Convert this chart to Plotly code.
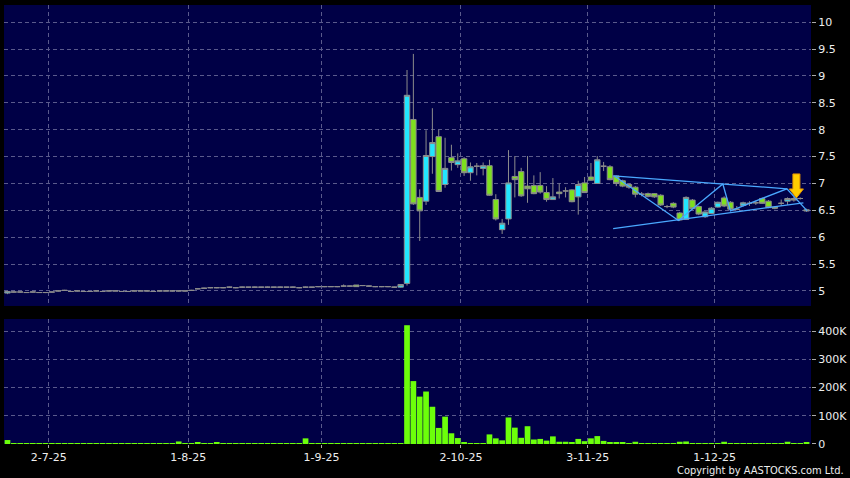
import plotly.graph_objects as go

# daily candles, one per trading day (index 0 = 20-6-25 ... 126 = 19-12-25)
opens = [4.96, 4.98, 4.98, 4.97, 4.98, 4.97, 4.97, 4.98, 5.00, 5.01,
         4.99, 5.00, 4.99, 4.99, 5.00, 4.99, 5.00, 5.00, 4.99, 4.99,
         5.00, 5.00, 5.00, 4.99, 5.00, 5.00, 5.00, 5.00, 5.00, 5.01,
         5.04, 5.05, 5.06, 5.06, 5.06, 5.07, 5.06, 5.07, 5.07, 5.07,
         5.07, 5.07, 5.07, 5.07, 5.07, 5.07, 5.06, 5.07, 5.07, 5.08,
         5.08, 5.08, 5.08, 5.09, 5.09, 5.11, 5.10, 5.09, 5.08, 5.08,
         5.08, 5.07, 5.07, 5.14, 8.19, 6.74, 6.67, 7.50, 7.87, 6.98,
         7.48, 7.35, 7.46, 7.20, 7.32, 7.28, 7.33, 6.70, 6.14, 6.34,
         7.13, 7.22, 6.95, 6.96, 6.96, 6.83, 6.70, 6.84, 6.86, 6.88,
         6.75, 7.01, 7.12, 7.00, 7.32, 7.31, 7.14, 7.05, 6.98, 6.93,
         6.80, 6.81, 6.81, 6.78, 6.57, 6.63, 6.45, 6.33, 6.69, 6.57,
         6.38, 6.44, 6.56, 6.73, 6.65, 6.52, 6.59, 6.63, 6.64, 6.72,
         6.67, 6.56, 6.63, 6.67, 6.72, 6.72, 6.51]
highs = [4.99, 4.99, 4.98, 4.98, 4.98, 4.98, 4.97, 4.98, 5.01, 5.02,
         5.00, 5.00, 5.00, 4.99, 5.00, 5.00, 5.00, 5.01, 5.00, 4.99,
         5.00, 5.01, 5.01, 5.00, 5.00, 5.01, 5.00, 5.00, 5.00, 5.02,
         5.05, 5.06, 5.07, 5.07, 5.06, 5.08, 5.07, 5.08, 5.07, 5.08,
         5.07, 5.08, 5.07, 5.08, 5.07, 5.08, 5.07, 5.08, 5.07, 5.09,
         5.08, 5.09, 5.08, 5.12, 5.10, 5.11, 5.11, 5.10, 5.09, 5.08,
         5.09, 5.08, 5.12, 9.11, 9.41, 6.89, 7.99, 8.40, 8.00, 7.85,
         7.72, 7.56, 7.49, 7.39, 7.38, 7.39, 7.44, 6.80, 6.34, 7.62,
         7.51, 7.29, 7.51, 7.15, 7.21, 6.95, 7.10, 7.00, 6.93, 6.89,
         7.05, 7.12, 7.38, 7.51, 7.40, 7.34, 7.15, 7.07, 7.00, 6.95,
         6.84, 6.83, 6.82, 6.80, 6.60, 6.65, 6.47, 6.76, 6.71, 6.59,
         6.48, 6.56, 6.66, 6.76, 6.67, 6.58, 6.66, 6.67, 6.68, 6.74,
         6.69, 6.58, 6.70, 6.74, 6.75, 6.74, 6.53]
lows = [4.94, 4.97, 4.97, 4.97, 4.97, 4.97, 4.96, 4.97, 4.99, 5.00,
        4.98, 4.99, 4.99, 4.98, 4.99, 4.99, 4.99, 5.00, 4.98, 4.98,
        4.99, 5.00, 4.99, 4.98, 4.99, 5.00, 4.99, 4.99, 4.99, 5.00,
        5.03, 5.04, 5.05, 5.05, 5.05, 5.06, 5.05, 5.06, 5.06, 5.06,
        5.06, 5.07, 5.06, 5.07, 5.06, 5.07, 5.05, 5.06, 5.06, 5.07,
        5.07, 5.08, 5.07, 5.08, 5.08, 5.08, 5.09, 5.08, 5.07, 5.07,
        5.07, 5.06, 5.06, 5.10, 6.60, 5.93, 6.60, 7.18, 6.84, 6.92,
        7.24, 7.29, 7.14, 7.05, 7.15, 7.15, 6.77, 6.31, 6.06, 6.23,
        6.74, 6.75, 6.64, 6.80, 6.81, 6.66, 6.70, 6.72, 6.74, 6.65,
        6.42, 6.83, 7.05, 6.99, 7.23, 7.06, 6.95, 6.93, 6.90, 6.74,
        6.76, 6.74, 6.73, 6.58, 6.54, 6.54, 6.30, 6.32, 6.52, 6.41,
        6.36, 6.43, 6.55, 6.56, 6.50, 6.50, 6.57, 6.58, 6.60, 6.62,
        6.54, 6.52, 6.58, 6.60, 6.66, 6.70, 6.47]
closes = [4.99, 4.98, 4.98, 4.97, 4.98, 4.97, 4.97, 4.98, 5.00, 5.01,
          4.99, 5.00, 4.99, 4.99, 5.00, 4.99, 5.00, 5.00, 4.99, 4.99,
          5.00, 5.00, 5.00, 4.99, 5.00, 5.00, 5.00, 5.00, 5.00, 5.01,
          5.04, 5.05, 5.06, 5.06, 5.06, 5.07, 5.06, 5.07, 5.07, 5.07,
          5.07, 5.07, 5.07, 5.07, 5.07, 5.07, 5.06, 5.07, 5.07, 5.08,
          5.08, 5.08, 5.08, 5.09, 5.09, 5.08, 5.10, 5.09, 5.08, 5.08,
          5.08, 5.07, 5.12, 8.64, 6.62, 6.49, 7.52, 7.76, 6.85, 7.28,
          7.39, 7.42, 7.20, 7.31, 7.32, 7.33, 6.78, 6.34, 6.26, 7.01,
          7.07, 6.77, 6.90, 6.81, 6.84, 6.70, 6.75, 6.81, 6.86, 6.66,
          6.98, 6.83, 7.06, 7.44, 7.32, 7.07, 7.00, 6.95, 6.93, 6.80,
          6.80, 6.76, 6.75, 6.60, 6.57, 6.56, 6.32, 6.74, 6.53, 6.43,
          6.47, 6.54, 6.65, 6.58, 6.52, 6.52, 6.64, 6.63, 6.64, 6.63,
          6.55, 6.54, 6.63, 6.72, 6.69, 6.72, 6.49]
volumes = [14000, 1200, 800, 1500, 900, 1100, 700, 1300, 1800, 1000,
           900, 1400, 600, 1000, 1200, 800, 1500, 1100, 700, 900,
           1300, 1000, 1600, 800, 1200, 900, 1100, 9000, 1400, 2500,
           7000, 1500, 1200, 4000, 1000, 1300, 800, 1500, 1100, 900,
           1200, 1000, 1400, 900, 1300, 1100, 1600, 20000, 1200, 1000,
           1500, 900, 1200, 3000, 1100, 2000, 1400, 1000, 1300, 3000,
           1200, 1500, 2000, 421000, 223000, 168000, 186000, 132000, 57000, 97000,
           38000, 21000, 4000, 3000, 2000, 1500, 34000, 20000, 13000, 94000,
           58000, 22000, 63000, 16000, 18000, 12000, 27000, 8000, 8000, 6000,
           18000, 10000, 20000, 28000, 11000, 6000, 5000, 4000, 3000, 8000,
           3000, 2500, 2000, 3500, 2000, 2500, 8000, 9000, 3000, 2500,
           2000, 2000, 1500, 8000, 2500, 2000, 3000, 2000, 1500, 2500,
           2000, 1500, 2000, 8000, 3000, 2000, 4000]
days = list(range(len(closes)))

# month boundaries (first trading day of each month)
month_pos = [6.5, 28.5, 49.5, 71.5, 91.5, 111.5]
month_labels = ["2-7-25", "1-8-25", "1-9-25", "2-10-25", "3-11-25", "1-12-25"]

price_ticks = [5, 5.5, 6, 6.5, 7, 7.5, 8, 8.5, 9, 9.5, 10]
vol_ticks = [0, 100000, 200000, 300000, 400000]
vol_labels = ["0", "100K", "200K", "300K", "400K"]

# hand-drawn triangle / zigzag
upper_x, upper_y = [95.5, 122.9], [7.14, 6.90]
lower_x, lower_y = [95.5, 125.5], [6.16, 6.64]
zig_x = [95.8, 105.8, 112.8, 114.0, 122.9, 126.1]
zig_y = [7.13, 6.31, 6.99, 6.49, 6.90, 6.49]
arrow_x, arrow_y = 124.4, 6.73

grid = "#5a5a8c"
navy = "#000046"

fig = go.Figure()
fig.add_trace(go.Candlestick(
    x=days, open=opens, high=highs, low=lows, close=closes,
    increasing=dict(fillcolor="#22e6ff", line=dict(color="#8c8c8c", width=1)),
    decreasing=dict(fillcolor="#7ee01e", line=dict(color="#8c8c8c", width=1)),
    xaxis="x", yaxis="y", showlegend=False, hoverinfo="skip"))
for xs, ys in [(upper_x, upper_y), (lower_x, lower_y), (zig_x, zig_y)]:
    fig.add_trace(go.Scatter(x=xs, y=ys, mode="lines", line=dict(color="#4aa8ff", width=1.3),
                             xaxis="x", yaxis="y", showlegend=False, hoverinfo="skip"))
fig.add_trace(go.Bar(x=days, y=volumes, marker=dict(color="#6cff0a", line=dict(width=0)),
                     xaxis="x2", yaxis="y2", showlegend=False, hoverinfo="skip"))

fig.add_shape(type="path", xref="x", yref="y", xsizemode="pixel", ysizemode="pixel",
              xanchor=arrow_x, yanchor=arrow_y,
              path="M 0 0 L -7 9 L -3.5 9 L -3.5 24 L 3.5 24 L 3.5 9 L 7 9 Z",
              fillcolor="#ffcc00", line=dict(color="#e69500", width=1))

axis_font = dict(family="DejaVu Sans", size=11, color="#eeeeee")
xcommon = dict(range=[-0.55, 126.7], tickvals=month_pos, ticktext=month_labels,
               showgrid=True, gridcolor=grid, griddash="4px,3px", gridwidth=1,
               zeroline=False, showline=False, tickfont=axis_font)
fig.update_layout(
    width=850, height=478,
    margin=dict(l=4, r=39, t=5, b=34),
    paper_bgcolor="black", plot_bgcolor=navy,
    boxgap=0.1, boxgroupgap=0.05, bargap=0.1,
    xaxis=dict(**xcommon, domain=[0, 1], anchor="y", showticklabels=False,
               rangeslider=dict(visible=False)),
    xaxis2=dict(**xcommon, domain=[0, 1], anchor="y2", matches="x",
                ticks="outside", ticklen=3, tickcolor="#aaaaaa"),
    yaxis=dict(domain=[0.3144, 1], range=[4.72, 10.32], side="right", anchor="x",
               tickvals=price_ticks, ticks="outside", ticklen=4, tickcolor="#aaaaaa",
               showgrid=True, gridcolor=grid, griddash="4px,3px", zeroline=False,
               tickfont=axis_font),
    yaxis2=dict(domain=[0, 0.2847], range=[0, 443000], side="right", anchor="x2",
                tickvals=vol_ticks, ticktext=vol_labels, ticks="outside", ticklen=4,
                tickcolor="#aaaaaa", showgrid=True, gridcolor=grid, griddash="4px,3px",
                zeroline=False, tickfont=axis_font),
)
fig.add_annotation(text="Copyright by AASTOCKS.com Ltd.", xref="paper", yref="paper",
                   x=1.0434, y=-0.0615, xanchor="right", yanchor="middle", showarrow=False,
                   font=dict(family="Liberation Sans Narrow, DejaVu Sans Condensed, Liberation Sans",
                             size=11, color="#eeeeee"))

# the page's default 8px body margin would shift the figure
fig.write_html("out.html", config={"displayModeBar": False},
               post_script="document.body.style.margin='0';")
